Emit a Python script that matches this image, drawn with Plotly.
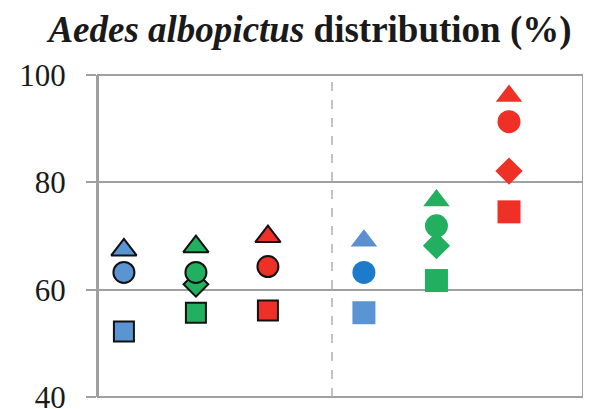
import plotly.graph_objects as go

groups = ["Blue", "Green", "Red"]

# Left panel values (with black outlines); None = hidden behind circle
left_triangle = [67.4, 68.0, 69.9]
left_circle = [63.2, 63.2, 64.3]
left_diamond = [None, 61.0, None]
left_square = [52.2, 55.7, 56.1]

# Right panel values (no outlines)
right_triangle = [69.1, 76.6, 96.1]
right_circle = [63.2, 71.9, 91.3]
right_diamond = [None, 68.2, 82.1]
right_square = [55.7, 61.7, 74.5]

y_ticks = [40, 60, 80, 100]

left_colors = ["#5B94D3", "#22B060", "#EE3026"]
right_tri_colors = ["#5B8FD0", "#22B060", "#EE3026"]
right_circ_colors = ["#1E7BCB", "#22B060", "#EE3026"]
right_sq_colors = ["#5B94D3", "#22B060", "#EE3026"]

fig = go.Figure()

outline = dict(color="#111111", width=2)

for vals, sym, size in [
    (left_triangle, "triangle-up", 22),
    (left_diamond, "diamond", 19),
    (left_square, "square", 20),
    (left_circle, "circle", 21),
]:
    fig.add_trace(go.Scatter(
        x=groups, y=vals, mode="markers", xaxis="x", yaxis="y",
        marker=dict(symbol=sym, size=size, color=left_colors, line=outline),
        showlegend=False, hoverinfo="skip"))

for vals, sym, size, cols in [
    (right_triangle, "triangle-up", 23, right_tri_colors),
    (right_diamond, "diamond", 21, right_sq_colors),
    (right_square, "square", 23, right_sq_colors),
    (right_circle, "circle", 23, right_circ_colors),
]:
    fig.add_trace(go.Scatter(
        x=groups, y=vals, mode="markers", xaxis="x2", yaxis="y",
        marker=dict(symbol=sym, size=size, color=cols, line=dict(width=0)),
        showlegend=False, hoverinfo="skip"))

# page has an 8px body margin, so the figure is offset by 8px
W, H = 583, 401
L, T, R, B = 90, 67, 8, 12
plot_w = W - L - R
split = (324 - L) / plot_w

grid_col = "#A0A0A0"
fig.update_layout(
    width=W, height=H,
    margin=dict(l=L, r=R, t=T, b=B, autoexpand=False),
    paper_bgcolor="white", plot_bgcolor="white",
    title=dict(
        text="<b><i>Aedes albopictus</i> distribution (%)</b>",
        font=dict(family="Liberation Serif", size=37, color="#1a1a1a"),
        x=302 / W, xanchor="center", xref="container",
        y=1 - 21 / H, yanchor="middle", yref="container"),
    xaxis=dict(domain=[0, split], type="category", range=[-0.36, 2.89],
               showticklabels=False, showgrid=False, zeroline=False,
               showline=False, ticks="", automargin=False),
    xaxis2=dict(domain=[split, 1], type="category", range=[-0.44, 3.02],
                anchor="y", showticklabels=False, showgrid=False,
                zeroline=False, showline=False, ticks="", automargin=False),
    yaxis=dict(range=[40, 100], tickvals=y_ticks, automargin=False,
               ticklabeloverflow="allow",
               showgrid=True, gridcolor=grid_col, gridwidth=2,
               showline=True, linecolor=grid_col, linewidth=2,
               ticks="outside", ticklen=10, tickwidth=2, tickcolor=grid_col,
               ticklabelstandoff=14, zeroline=False,
               tickfont=dict(family="Liberation Serif", size=31, color="#1a1a1a")),
    shapes=[
        dict(type="rect", xref="paper", yref="paper", x0=0, x1=1, y0=0, y1=1,
             line=dict(color=grid_col, width=2), layer="below"),
        dict(type="line", xref="paper", yref="paper", x0=split, x1=split,
             y0=0, y1=1, line=dict(color="#B0B0B0", width=1.5, dash="dash"),
             layer="below"),
    ],
)

fig.write_html("out.html")
